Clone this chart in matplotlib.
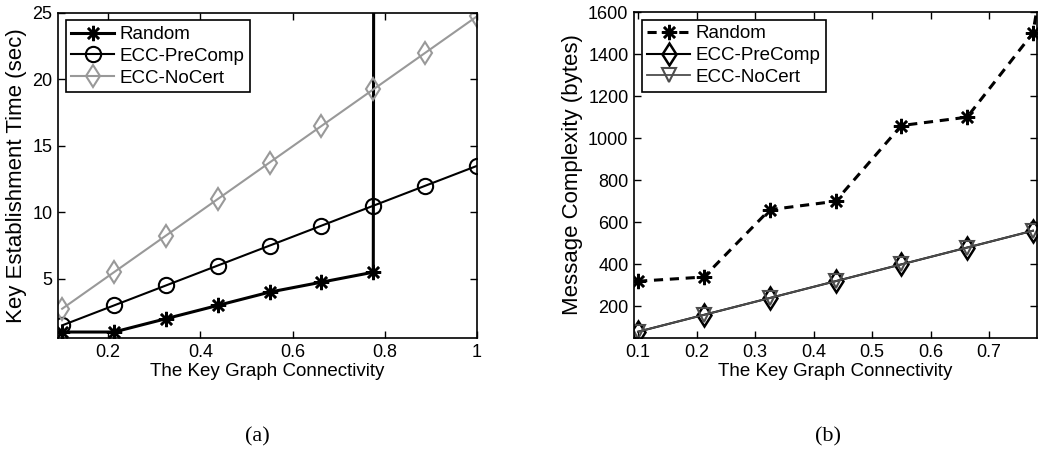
import matplotlib
matplotlib.use("Agg")
import matplotlib.pyplot as plt

plt.rcParams['font.family'] = ['Liberation Sans', 'DejaVu Sans']

# ---- data (a) ----
conn_a = [0.1, 0.2125, 0.325, 0.4375, 0.55, 0.6625, 0.775, 0.8875, 1.0]
rand_x_a = [0.1, 0.2125, 0.325, 0.4375, 0.55, 0.6625, 0.775, 0.8875]
rand_time = [1.0, 1.0, 2.0, 3.0, 4.0, 4.75, 5.5, 3000.0]
precomp_time = [1.5, 3.0, 4.5, 6.0, 7.5, 9.0, 10.5, 12.0, 13.5]
nocert_time = [2.75, 5.5, 8.25, 11.0, 13.75, 16.5, 19.25, 22.0, 24.75]
xticks_a = [0.2, 0.4, 0.6, 0.8, 1.0]
xticklabels_a = ['0.2', '0.4', '0.6', '0.8', '1']
yticks_a = [5, 10, 15, 20, 25]

# ---- data (b) ----
conn_b = [0.1, 0.2125, 0.325, 0.4375, 0.55, 0.6625, 0.775]
rand_x_b = [0.1, 0.2125, 0.325, 0.4375, 0.55, 0.6625, 0.775, 0.8875]
rand_msg = [320, 340, 660, 700, 1060, 1100, 1500, 3350]
precomp_msg = [80, 160, 240, 320, 400, 480, 560]
nocert_msg = [80, 160, 240, 320, 400, 480, 560]
xticks_b = [0.1, 0.2, 0.3, 0.4, 0.5, 0.6, 0.7]
yticks_b = [200, 400, 600, 800, 1000, 1200, 1400, 1600]

W, H = 1041, 465
fig = plt.figure(figsize=(W / 100, H / 100), dpi=100)

ax1 = fig.add_axes([58 / W, 1 - 338 / H, 419 / W, 325 / H])
ax2 = fig.add_axes([634 / W, 1 - 338 / H, 403 / W, 326 / H])

star = (8, 2, 0)

# (a)
ax1.plot(rand_x_a, rand_time, color='black', lw=2.2, marker=star, ms=11, mew=1.8,
         label='Random')
ax1.plot(conn_a, precomp_time, color='black', lw=1.5, marker='o', ms=11,
         mfc='none', mew=1.5, label='ECC-PreComp')
ax1.plot(conn_a, nocert_time, color='0.6', lw=1.5, marker='d', ms=11.5,
         mfc='none', mew=1.5, label='ECC-NoCert')
ax1.set_xlim(0.091, 1.0)
ax1.set_ylim(0.55, 25)
ax1.set_xticks(xticks_a)
ax1.set_xticklabels(xticklabels_a)
ax1.set_yticks(yticks_a)
ax1.set_xlabel('The Key Graph Connectivity', fontsize=13.5, labelpad=2)
ax1.set_ylabel('Key Establishment Time (sec)', fontsize=16, labelpad=4)

# (b)
ax2.plot(rand_x_b, rand_msg, color='black', lw=2.2, ls=(0, (3, 2.2)), marker=star,
         ms=11, mew=1.8, label='Random')
ax2.plot(conn_b, precomp_msg, color='black', lw=1.5, marker='d', ms=11.5,
         mfc='none', mew=1.8, label='ECC-PreComp')
ax2.plot(conn_b, nocert_msg, color='0.3', lw=1.3, marker='v', ms=10,
         mfc='none', mew=1.5, label='ECC-NoCert')
ax2.set_xlim(0.093, 0.782)
ax2.set_ylim(50, 1600)
ax2.set_xticks(xticks_b)
ax2.set_yticks(yticks_b)
ax2.set_xlabel('The Key Graph Connectivity', fontsize=13.5, labelpad=2)
ax2.set_ylabel('Message Complexity (bytes)', fontsize=16, labelpad=4)

for ax in (ax1, ax2):
    ax.tick_params(direction='in', length=5, width=1, top=True, right=True,
                   labelsize=13, pad=4)
    for s in ax.spines.values():
        s.set_linewidth(1.2)
    leg = ax.legend(loc='upper left', fontsize=13.5, frameon=True, fancybox=False,
                    edgecolor='black', framealpha=1, handlelength=2.3,
                    handletextpad=0.3, borderpad=0.3, labelspacing=0.25,
                    borderaxespad=0.4)
    leg.get_frame().set_linewidth(1.2)

fig.text(257 / W, 1 - 437 / H, '(a)', fontsize=16, family='Liberation Serif',
         ha='center', va='center')
fig.text(828 / W, 1 - 437 / H, '(b)', fontsize=16, family='Liberation Serif',
         ha='center', va='center')

fig.savefig('out.png', dpi=100)
